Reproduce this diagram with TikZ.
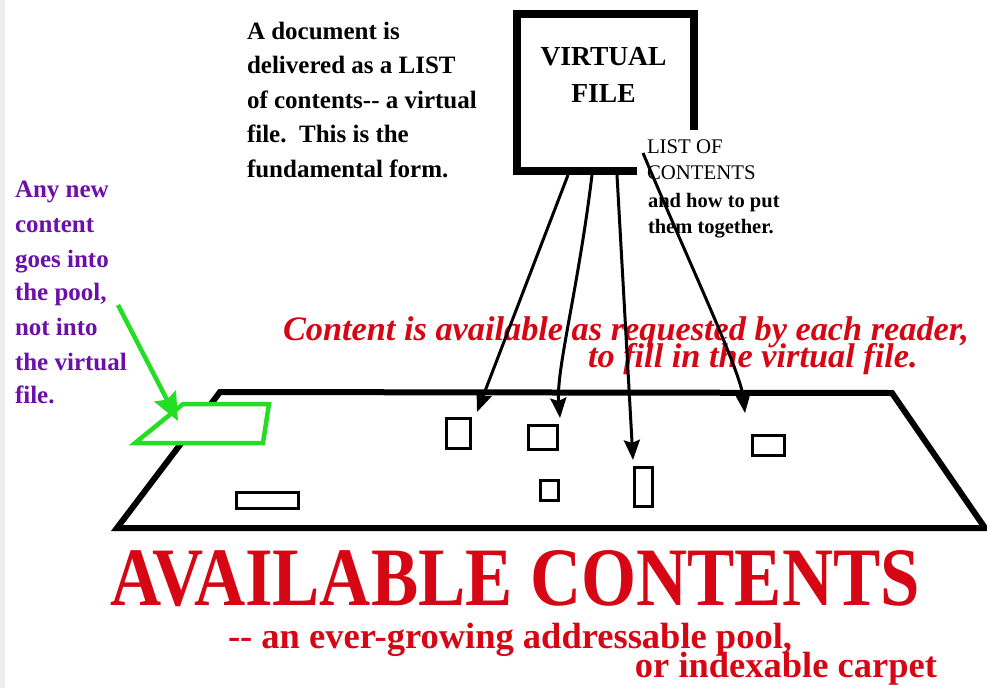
\documentclass[tikz,border=0pt]{standalone}
\usepackage{fontspec}
\setmainfont{Liberation Serif}
\usetikzlibrary{arrows.meta}
\definecolor{myred}{RGB}{214,6,20}
\definecolor{mypurple}{RGB}{108,16,170}
\definecolor{mygreen}{RGB}{36,222,36}
\begin{document}
\begin{tikzpicture}[x=1pt,y=-1pt,
  txt/.style={anchor=base west, inner sep=0pt, outer sep=0pt},
  blk/.style={txt, font=\fontsize{25}{25}\selectfont\bfseries},
  pur/.style={blk, text=mypurple},
  lst/.style={txt, font=\fontsize{20.8}{20.8}\selectfont},
  lstb/.style={txt, font=\fontsize{20.5}{20.5}\selectfont\bfseries},
  vftxt/.style={anchor=base, inner sep=0pt, font=\fontsize{27.5}{27.5}\selectfont\bfseries},
  redit/.style={txt, text=myred, font=\fontsize{34.3}{34.3}\selectfont\bfseries\itshape},
  redsub/.style={txt, text=myred, font=\fontsize{36.5}{36.5}\selectfont\bfseries},
  itembox/.style 2 args={draw, line width=3pt, inner sep=0pt, minimum width=#1, minimum height=#2},
  conn/.style={line width=3pt, -{Stealth[length=20pt,width=16pt,inset=3pt]}},
  gconn/.style={mygreen, line width=4.5pt, -{Stealth[length=28pt,width=24pt,inset=4pt]}},
]
\useasboundingbox (0,0) rectangle (987,688);
\fill[white] (0,0) rectangle (987,688);
\fill[gray!15] (0,0) rectangle (5,688);

% virtual file box
\node[draw, line width=8pt, minimum width=177pt, minimum height=157pt, inner sep=0pt] (vf) at (605.5,92.5) {};
\node[vftxt] (vfa) at (603.5,65) {VIRTUAL};
\node[vftxt] (vfb) at (603.5,102) {FILE};

% list of contents label (white background)
\node[fill=white, anchor=north west, minimum width=150pt, minimum height=108pt, inner sep=0pt] (lcbg) at (637,130) {};
\node[lst] (l1) at (647,153) {LIST OF};
\node[lst] (l2) at (647,179) {CONTENTS};
\node[lstb] (l3) at (648,207) {and how to put};
\node[lstb] (l4) at (648,233) {them together.};

% black text
\node[blk] (d1) at (247,39) {A document is};
\node[blk] (d2) at (247,73) {delivered as a LIST};
\node[blk] (d3) at (247,108) {of contents-\kern0pt- a virtual};
\node[blk] (d4) at (247,142) {file.\enspace This is the};
\node[blk] (d5) at (247,177) {fundamental form.};

% purple text
\node[pur] (p1) at (15,197) {Any new};
\node[pur] (p2) at (15,232) {content};
\node[pur] (p3) at (15,267) {goes into};
\node[pur] (p4) at (15,300) {the pool,};
\node[pur] (p5) at (15,335) {not into};
\node[pur] (p6) at (15,370) {the virtual};
\node[pur] (p7) at (15,403) {file.};

% red italic text
\node[redit] (r1) at (283,340) {Content is available as requested by each reader,};
\node[redit] (r2) at (588,367) {to fill in the virtual file.};

% carpet
\draw[line width=6pt, line join=miter] (220,392) -- (892,393) -- (985,528) -- (117,528) -- cycle;

% green new-content shape
\draw[mygreen, line width=4.5pt, fill=white, line join=miter] (183,404) -- (269,404) -- (263,443) -- (135,443) -- cycle;
\coordinate (gs) at (118,305);
\coordinate (gt) at (178,421);
\draw[gconn] (gs) -- (gt);

% content items
\node[itembox={24pt}{30pt}] (rA) at (458.5,433.5) {};
\node[itembox={29pt}{24pt}] (rB) at (543,437) {};
\node[itembox={18pt}{20pt}] (rC) at (549,490) {};
\node[itembox={18pt}{39pt}] (rD) at (643,486.5) {};
\node[itembox={32pt}{20pt}] (rE) at (768,445) {};
\node[itembox={62pt}{16pt}] (rF) at (267,500) {};

% connectors from virtual file
\draw[conn] ([xshift=55pt]vf.south west) -- ([xshift=5pt,yshift=5pt]rA.north east);
\draw[conn] ([xshift=79pt]vf.south west) .. controls (578,290) and (556,370) .. ([xshift=1pt,yshift=5.5pt]rB.north east);
\draw[conn] ([xshift=104pt]vf.south west) -- ([xshift=0.5pt,yshift=5.5pt]rD.north west);
\draw[conn] ([xshift=130pt,yshift=22pt]vf.south west) .. controls (690,265) and (740,370) .. ([xshift=-5.5pt,yshift=20.5pt]rE.north west);

% big title
\node[txt, text=myred] (t1) at (110,605) {\resizebox{810pt}{55pt}{\fontsize{80}{80}\selectfont\bfseries AVAILABLE CONTENTS}};
\node[redsub] (s1) at (228,648) {-\kern0pt- an ever-growing addressable pool,};
\node[redsub, anchor=base east] (s2) at (937,677) {or indexable carpet};
\end{tikzpicture}
\end{document}
